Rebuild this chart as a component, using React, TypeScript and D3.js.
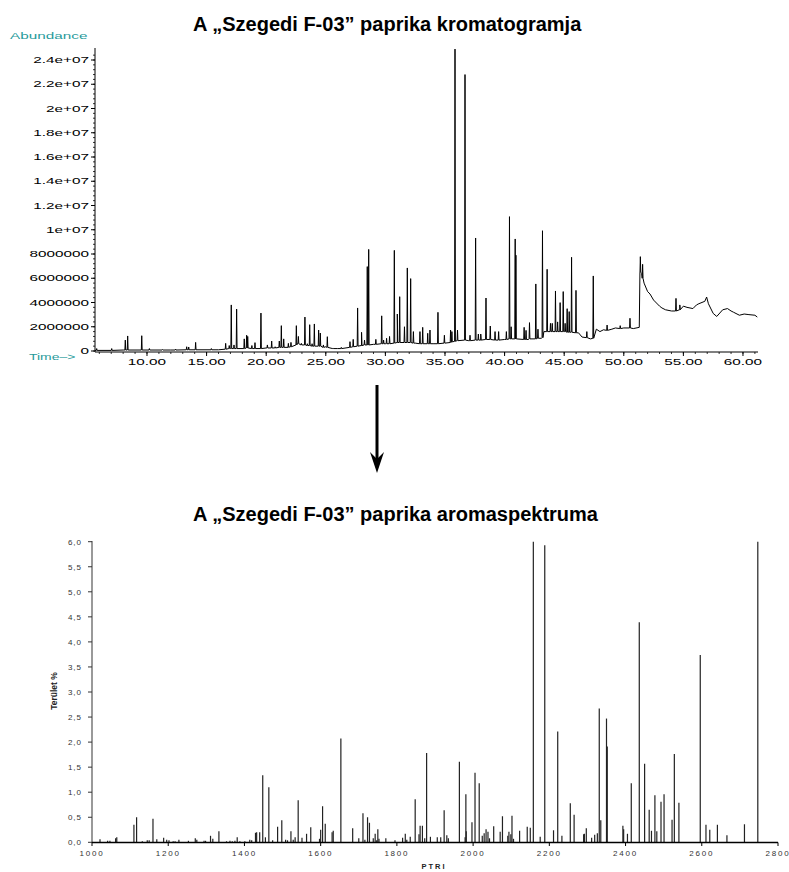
import React from 'react';
import * as d3 from 'd3';

const chromTitle = 'A „Szegedi F-03” paprika kromatogramja';
const spectrumTitle = 'A „Szegedi F-03” paprika aromaspektruma';

// Chromatogram peaks: retention time (min), apex abundance (millions), local base (millions)
const peakTimes = [5.78, 7.04, 8.18, 8.38, 9.56, 10.2, 11.3, 12.4, 13.33, 13.5, 14.08, 15.4, 16.6, 16.9, 17.07, 17.3, 17.52, 18.16, 18.36, 18.45, 18.8, 19.06, 19.56, 20.1, 20.46, 20.75, 21.1, 21.27, 21.47, 21.86, 22.08, 22.53, 22.7, 22.95, 23.25, 23.45, 23.65, 23.85, 24.04, 24.4, 24.54, 24.8, 25.13, 25.6, 26.3, 27.03, 27.3, 27.67, 28.0, 28.25, 28.48, 28.6, 29.2, 29.69, 29.85, 30.1, 30.35, 30.75, 31.0, 31.2, 31.6, 31.84, 32.12, 32.35, 32.9, 33.13, 33.55, 33.74, 34.41, 34.95, 35.47, 35.58, 35.84, 36.05, 36.68, 37.1, 37.57, 37.8, 38.0, 38.44, 38.8, 39.2, 39.5, 40.15, 40.41, 40.55, 40.89, 40.95, 41.64, 41.8, 42.09, 42.62, 42.8, 43.18, 43.57, 43.85, 44.0, 44.27, 44.45, 44.66, 44.92, 45.08, 45.25, 45.42, 45.62, 45.99, 46.9, 47.44, 48.6, 49.7, 50.52, 51.39, 51.58, 54.38, 54.7];
const peakApex = [0.2, 0.2, 0.9, 1.24, 1.26, 0.2, 0.12, 0.15, 0.35, 0.33, 0.71, 0.2, 0.63, 0.45, 3.8, 0.5, 3.46, 1.0, 1.3, 1.2, 0.45, 0.69, 3.13, 0.5, 0.82, 0.35, 0.82, 2.09, 1.0, 0.63, 0.71, 2.09, 1.2, 0.63, 2.8, 0.6, 2.17, 0.6, 2.23, 1.73, 1.48, 0.5, 1.18, 0.25, 0.3, 0.77, 0.96, 3.55, 1.54, 0.9, 6.96, 8.38, 0.96, 2.9, 0.9, 1.05, 1.2, 8.3, 3.05, 4.48, 2.0, 6.85, 5.97, 1.6, 1.6, 1.95, 1.46, 1.73, 3.19, 1.3, 1.73, 1.6, 24.9, 1.73, 22.8, 1.3, 9.32, 1.4, 1.4, 4.37, 2.06, 1.6, 1.6, 1.6, 11.08, 2.0, 9.24, 7.9, 1.95, 1.7, 2.34, 5.53, 1.8, 9.92, 6.74, 2.28, 2.28, 4.95, 2.4, 3.99, 4.9, 2.28, 3.49, 3.25, 7.73, 5.0, 1.6, 6.19, 2.14, 2.09, 2.7, 7.78, 7.15, 4.34, 3.8];
const peakBase = [0.05, 0.05, 0.08, 0.08, 0.08, 0.08, 0.08, 0.08, 0.1, 0.1, 0.1, 0.1, 0.15, 0.2, 0.2, 0.2, 0.2, 0.2, 0.25, 0.25, 0.2, 0.2, 0.2, 0.25, 0.25, 0.25, 0.3, 0.3, 0.3, 0.3, 0.35, 0.5, 0.6, 0.5, 0.5, 0.45, 0.45, 0.4, 0.4, 0.4, 0.4, 0.3, 0.3, 0.2, 0.2, 0.3, 0.35, 0.4, 0.45, 0.5, 0.5, 0.5, 0.55, 0.6, 0.6, 0.6, 0.6, 0.65, 0.7, 0.7, 0.7, 0.7, 0.7, 0.65, 0.6, 0.6, 0.6, 0.6, 0.6, 0.65, 0.7, 0.75, 0.8, 0.85, 0.9, 0.85, 0.9, 0.9, 0.9, 0.95, 0.95, 0.9, 0.9, 0.95, 1.0, 1.0, 1.0, 1.0, 0.95, 0.95, 1.0, 1.0, 1.05, 1.1, 1.6, 1.6, 1.6, 1.6, 1.6, 1.6, 1.6, 1.6, 1.55, 1.55, 1.55, 1.5, 1.1, 1.05, 1.7, 1.85, 1.9, 6.5, 6.0, 3.3, 3.4];

// Chromatogram baseline: time (min), level (millions)
const baseTimes = [5.64, 8, 12, 16, 17, 20, 22, 22.6, 23, 25, 26, 27, 28, 29, 30, 31, 32.5, 34, 35, 36, 37, 38, 40, 41, 42, 43.1, 43.3, 45, 46.2, 46.5, 47.2, 47.7, 48, 48.3, 49, 49.3, 50, 50.8, 51.3, 51.36, 51.5, 51.7, 52, 52.2, 52.5, 53, 53.2, 53.5, 54, 54.7, 55.0, 55.3, 55.8, 56.1, 56.3, 56.8, 56.95, 57.1, 57.5, 57.8, 58.3, 58.7, 59.0, 59.2, 59.7, 60.1, 60.5, 61.0, 61.2];
const baseLevels = [0.05, 0.08, 0.08, 0.1, 0.2, 0.25, 0.35, 0.6, 0.5, 0.35, 0.2, 0.3, 0.45, 0.55, 0.6, 0.7, 0.65, 0.6, 0.65, 0.85, 0.85, 0.9, 0.95, 1.0, 0.95, 1.05, 1.6, 1.6, 1.5, 1.15, 1.0, 1.8, 1.6, 1.75, 1.8, 1.9, 1.9, 1.85, 1.95, 6.5, 6.4, 5.6, 4.9, 4.7, 4.2, 3.7, 3.55, 3.4, 3.3, 3.4, 3.7, 3.6, 3.5, 3.8, 3.9, 4.1, 4.45, 3.9, 3.1, 2.85, 3.4, 3.5, 3.3, 3.2, 2.95, 3.05, 3.0, 2.95, 2.8];

const abundanceTicks = [0, 2, 4, 6, 8, 10, 12, 14, 16, 18, 20, 22, 24];
const abundanceLabels = ['0', '2000000', '4000000', '6000000', '8000000', '1e+07', '1.2e+07', '1.4e+07', '1.6e+07', '1.8e+07', '2e+07', '2.2e+07', '2.4e+07'];
const timeTicks = [10, 15, 20, 25, 30, 35, 40, 45, 50, 55, 60];
const timeLabels = ['10.00', '15.00', '20.00', '25.00', '30.00', '35.00', '40.00', '45.00', '50.00', '55.00', '60.00'];

// Aroma spectrum
const ptri = [1021, 1041, 1047, 1062, 1065, 1110, 1117, 1132, 1145, 1150, 1160, 1170, 1188, 1196, 1202, 1213, 1218, 1228, 1253, 1271, 1275, 1294, 1298, 1311, 1317, 1333, 1353, 1362, 1368, 1375, 1381, 1388, 1401, 1414, 1419, 1429, 1432, 1440, 1448, 1455, 1464, 1474, 1487, 1498, 1508, 1513, 1522, 1528, 1533, 1541, 1551, 1563, 1574, 1597, 1600, 1605, 1612, 1630, 1633, 1653, 1684, 1700, 1711, 1716, 1723, 1728, 1738, 1743, 1747, 1750, 1753, 1771, 1795, 1815, 1822, 1826, 1835, 1848, 1858, 1861, 1867, 1873, 1878, 1888, 1906, 1915, 1924, 1931, 1935, 1964, 1979, 1981, 1982, 1997, 2005, 2016, 2024, 2029, 2034, 2039, 2043, 2054, 2071, 2077, 2091, 2094, 2099, 2102, 2106, 2122, 2142, 2150, 2158, 2176, 2188, 2211, 2222, 2233, 2255, 2265, 2290, 2292, 2297, 2311, 2319, 2326, 2331, 2335, 2350, 2352, 2393, 2395, 2405, 2415, 2436, 2450, 2462, 2468, 2477, 2482, 2493, 2501, 2522, 2528, 2540, 2596, 2611, 2621, 2641, 2666, 2712, 2747];
const area = [0.06, 0.03, 0.03, 0.08, 0.1, 0.35, 0.5, 0.02, 0.04, 0.04, 0.47, 0.06, 0.09, 0.05, 0.04, 0.02, 0.02, 0.05, 0.03, 0.08, 0.05, 0.03, 0.03, 0.13, 0.07, 0.22, 0.02, 0.03, 0.02, 0.03, 0.1, 0.02, 0.02, 0.05, 0.04, 0.19, 0.2, 0.2, 1.34, 0.1, 1.1, 0.04, 0.31, 0.44, 0.05, 0.04, 0.22, 0.05, 0.1, 0.84, 0.09, 0.17, 0.3, 0.07, 0.25, 0.72, 0.37, 0.2, 0.23, 2.07, 0.28, 0.08, 0.58, 0.05, 0.5, 0.39, 0.08, 0.17, 0.04, 0.26, 0.07, 0.08, 0.04, 0.09, 0.17, 0.05, 0.11, 0.86, 0.16, 0.33, 0.33, 0.08, 1.78, 0.11, 0.1, 0.1, 0.64, 0.14, 0.08, 1.61, 0.1, 0.96, 0.22, 0.4, 1.39, 1.18, 0.13, 0.18, 0.26, 0.21, 0.08, 0.32, 0.21, 0.52, 0.13, 0.21, 0.16, 0.53, 0.07, 0.23, 0.31, 0.29, 6.0, 0.11, 5.93, 0.24, 2.21, 0.13, 0.78, 0.55, 0.16, 0.17, 0.28, 0.09, 0.15, 0.18, 2.67, 0.44, 2.47, 1.91, 0.33, 0.26, 0.17, 1.18, 4.39, 1.57, 0.65, 0.23, 0.94, 0.22, 0.81, 0.96, 0.45, 1.76, 0.79, 3.74, 0.35, 0.25, 0.35, 0.14, 0.36, 6.0];

const areaTicks = [0, 0.5, 1, 1.5, 2, 2.5, 3, 3.5, 4, 4.5, 5, 5.5, 6];
const areaLabels = ['0,0', '0,5', '1,0', '1,5', '2,0', '2,5', '3,0', '3,5', '4,0', '4,5', '5,0', '5,5', '6,0'];
const ptriTicks = [1000, 1200, 1400, 1600, 1800, 2000, 2200, 2400, 2600, 2800];

const FONT = 'Liberation Sans, Arial, Helvetica, sans-serif';
const TEAL = '#1f9a9a';

export default function App() {
  // top chart scales
  const xT = d3.scaleLinear().domain([5.638, 61.26]).range([95, 758]);
  const yA = d3.scaleLinear().domain([0, 24.8e6]).range([351, 50.3]);

  const pts: [number, number][] = [];
  baseTimes.forEach((t, i) => pts.push([t, baseLevels[i]]));
  peakTimes.forEach((t, i) => {
    pts.push([t - 0.035, peakBase[i]], [t, peakApex[i]], [t + 0.035, peakBase[i]]);
  });
  pts.sort((a, b) => a[0] - b[0]);
  const line = d3.line<[number, number]>().x(d => xT(d[0])).y(d => yA(d[1] * 1e6));

  const minorY = d3.range(0, 24.8e6, 4e5);
  const minorX = d3.range(6, 62, 1);

  // bottom chart scales
  const xP = d3.scaleLinear().domain([1000, 2800]).range([92, 778]);
  const yP = d3.scaleLinear().domain([0, 6]).range([842.3, 541.7]);

  return (
    <svg width={789} height={872} style={{ position: 'absolute', left: 0, top: 0, background: '#fff' }} fontFamily={FONT}>
      <rect x={0} y={0} width={789} height={872} fill="#fff" />
      {/* ---------- Chromatogram ---------- */}
      <text x={193} y={31} fontSize={20} fontWeight="bold" fill="#000">{chromTitle}</text>
      <text transform="translate(10,39) scale(1.7,1)" fontSize={9} fill={TEAL}>Abundance</text>
      <text transform="translate(29,360) scale(1.55,1)" fontSize={9} fill={TEAL}>Time–&gt;</text>

      <line x1={95} x2={95} y1={48} y2={352} stroke="#000" strokeWidth={1} />
      <line x1={95} x2={758} y1={352} y2={352} stroke="#000" strokeWidth={1} />
      {minorY.map((v, i) => (
        <line key={'my' + i} x1={93} x2={95} y1={yA(v)} y2={yA(v)} stroke="#000" strokeWidth={0.8} />
      ))}
      {abundanceTicks.map((v, i) => (
        <g key={'ay' + i}>
          <line x1={91} x2={95} y1={yA(v * 1e6)} y2={yA(v * 1e6)} stroke="#000" strokeWidth={1} />
          <text transform={`translate(89,${yA(v * 1e6) + 3.2}) scale(1.7,1)`} fontSize={9} textAnchor="end" fill="#000">
            {abundanceLabels[i]}
          </text>
        </g>
      ))}
      {minorX.map((t, i) => (
        <line key={'mx' + i} x1={xT(t)} x2={xT(t)} y1={352} y2={354} stroke="#000" strokeWidth={0.8} />
      ))}
      {timeTicks.map((t, i) => (
        <g key={'tx' + i}>
          <line x1={xT(t)} x2={xT(t)} y1={352} y2={356} stroke="#000" strokeWidth={1} />
          <text transform={`translate(${xT(t)},365) scale(1.7,1)`} fontSize={9} textAnchor="middle" fill="#000">
            {timeLabels[i]}
          </text>
        </g>
      ))}
      <path d={line(pts) || ''} fill="none" stroke="#000" strokeWidth={1} strokeLinejoin="round" />

      {/* ---------- Arrow ---------- */}
      <line x1={377} x2={377} y1={385} y2={460} stroke="#000" strokeWidth={3} />
      <polygon points="370,452 377,473 384,452 377,459" fill="#000" />

      {/* ---------- Aroma spectrum ---------- */}
      <text x={193} y={521} fontSize={20} fontWeight="bold" fill="#000">{spectrumTitle}</text>
      <text transform="translate(57,691) rotate(-90)" fontSize={8.5} fontWeight="bold" textAnchor="middle" fill="#222">Terület %</text>
      <text x={434} y={869} fontSize={7.5} fontWeight="bold" textAnchor="middle" letterSpacing={2} fill="#222">PTRI</text>

      {ptri.map((p, i) => (
        <line key={'b' + i} x1={xP(p)} x2={xP(p)} y1={yP(0)} y2={yP(area[i])} stroke="#222" strokeWidth={1.2} />
      ))}
      <line x1={92} x2={92} y1={541} y2={843} stroke="#777" strokeWidth={1.5} />
      {areaTicks.map((v, i) => (
        <g key={'ty' + i}>
          <line x1={88} x2={92} y1={yP(v)} y2={yP(v)} stroke="#333" strokeWidth={1} />
          <text x={82} y={yP(v) + 3} fontSize={8} textAnchor="end" letterSpacing={1} fill="#333">{areaLabels[i]}</text>
        </g>
      ))}
      <line x1={92} x2={778} y1={842.5} y2={842.5} stroke="#000" strokeWidth={1.5} />
      {ptriTicks.map((p, i) => (
        <g key={'px' + i}>
          <line x1={xP(p)} x2={xP(p)} y1={842.5} y2={846} stroke="#000" strokeWidth={1} />
          <text x={xP(p)} y={856} fontSize={8} textAnchor="middle" letterSpacing={1.8} fill="#333">{String(p)}</text>
        </g>
      ))}
    </svg>
  );
}
